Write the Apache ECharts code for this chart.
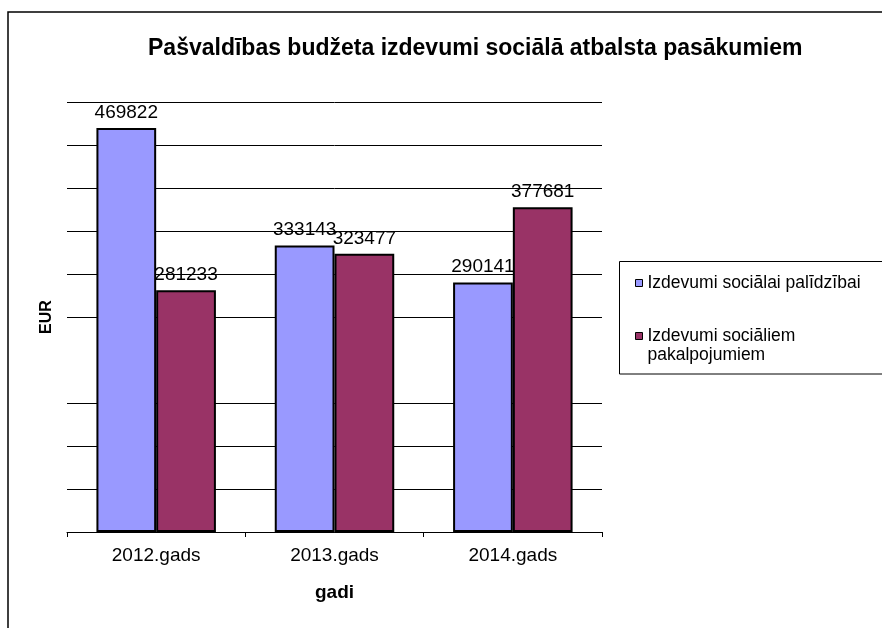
<!DOCTYPE html>
<html>
<head>
<meta charset="utf-8">
<script src="https://cdn.jsdelivr.net/npm/echarts@6/dist/echarts.min.js"></script>
<style>html,body{margin:0;padding:0;background:#fff}#c{width:882px;height:628px}</style>
</head>
<body>
<div id="c"></div>
<script>
const titleText = 'Pašvaldības budžeta izdevumi sociālā atbalsta pasākumiem';
const categories = ['2012.gads', '2013.gads', '2014.gads'];
const seriesNames = ['Izdevumi sociālai palīdzībai', 'Izdevumi sociāliem pakalpojumiem'];
const palidzibai = [469822, 333143, 290141];
const pakalpojumiem = [281233, 323477, 377681];
const yMin = 0, yMax = 500000, yInterval = 50000;

const FONT = '"Liberation Sans", Arial, sans-serif';
const chart = echarts.init(document.getElementById('c'), null, {renderer: 'canvas'});

// grid lines: one missing line at 200000 in the original
const nLines = (yMax - yMin) / yInterval + 1;
const lineColors = [];
for (let i = 0; i < nLines; i++) lineColors.push(i === 4 ? 'rgba(0,0,0,0)' : '#000');

const labelStyle = {show: true, position: 'top', distance: 6, color: '#000', fontFamily: FONT, fontSize: 19};

chart.setOption({
  backgroundColor: '#fff',
  animation: false,
  title: {
    text: titleText, left: 148, top: 37, padding: 0, textAlign: 'left',
    textStyle: {fontFamily: FONT, fontSize: 23, fontWeight: 'bold', color: '#000'}
  },
  graphic: [
    {type: 'rect', shape: {x: 8, y: 12, width: 900, height: 700}, style: {fill: 'none', stroke: '#000', lineWidth: 1.5}, z: 100, silent: true},
    {type: 'rect', shape: {x: 619.5, y: 261.5, width: 300, height: 112.5}, style: {fill: 'none', stroke: '#000', lineWidth: 1}, z: 100, silent: true}
  ],
  legend: [
    {
      data: [seriesNames[0]], left: 635, top: 273.5, padding: 0, orient: 'vertical',
      itemWidth: 7, itemHeight: 7, icon: 'rect', itemGap: 0,
      itemStyle: {borderColor: '#000', borderWidth: 1},
      textStyle: {fontFamily: FONT, fontSize: 17.5, color: '#000', lineHeight: 19}
    },
    {
      data: [seriesNames[1]], left: 635, top: 307.5, padding: 0, orient: 'vertical',
      itemWidth: 7, itemHeight: 7, icon: 'rect', itemGap: 0,
      itemStyle: {borderColor: '#000', borderWidth: 1},
      formatter: function (name) { return '\n' + name.replace(' pakalpojumiem', '\npakalpojumiem'); },
      textStyle: {fontFamily: FONT, fontSize: 17.5, color: '#000', lineHeight: 19}
    }
  ],
  grid: {left: 67, right: 280, top: 102, bottom: 96, containLabel: false},
  xAxis: {
    type: 'category', data: categories,
    name: 'gadi', nameLocation: 'middle', nameGap: 51,
    nameTextStyle: {fontFamily: FONT, fontSize: 19, fontWeight: 'bold', color: '#000'},
    axisLine: {lineStyle: {color: '#000', width: 1}},
    axisTick: {show: true, length: 5, lineStyle: {color: '#000'}},
    axisLabel: {fontFamily: FONT, fontSize: 19, color: '#000', margin: 14}
  },
  yAxis: {
    type: 'value', min: yMin, max: yMax, interval: yInterval,
    name: 'EUR', nameLocation: 'middle', nameGap: 12,
    nameTextStyle: {fontFamily: FONT, fontSize: 16, fontWeight: 'bold', color: '#000'},
    axisLine: {show: false}, axisTick: {show: false}, axisLabel: {show: false},
    splitLine: {show: true, lineStyle: {color: lineColors, width: 1}}
  },
  series: [
    {
      name: seriesNames[0], type: 'bar', data: palidzibai,
      barGap: 0, barCategoryGap: '33%',
      itemStyle: {color: '#9999FF', borderColor: '#000', borderWidth: 2},
      label: labelStyle
    },
    {
      name: seriesNames[1], type: 'bar', data: pakalpojumiem,
      barGap: 0, barCategoryGap: '33%',
      itemStyle: {color: '#993366', borderColor: '#000', borderWidth: 2},
      label: labelStyle
    }
  ]
});
</script>
</body>
</html>
